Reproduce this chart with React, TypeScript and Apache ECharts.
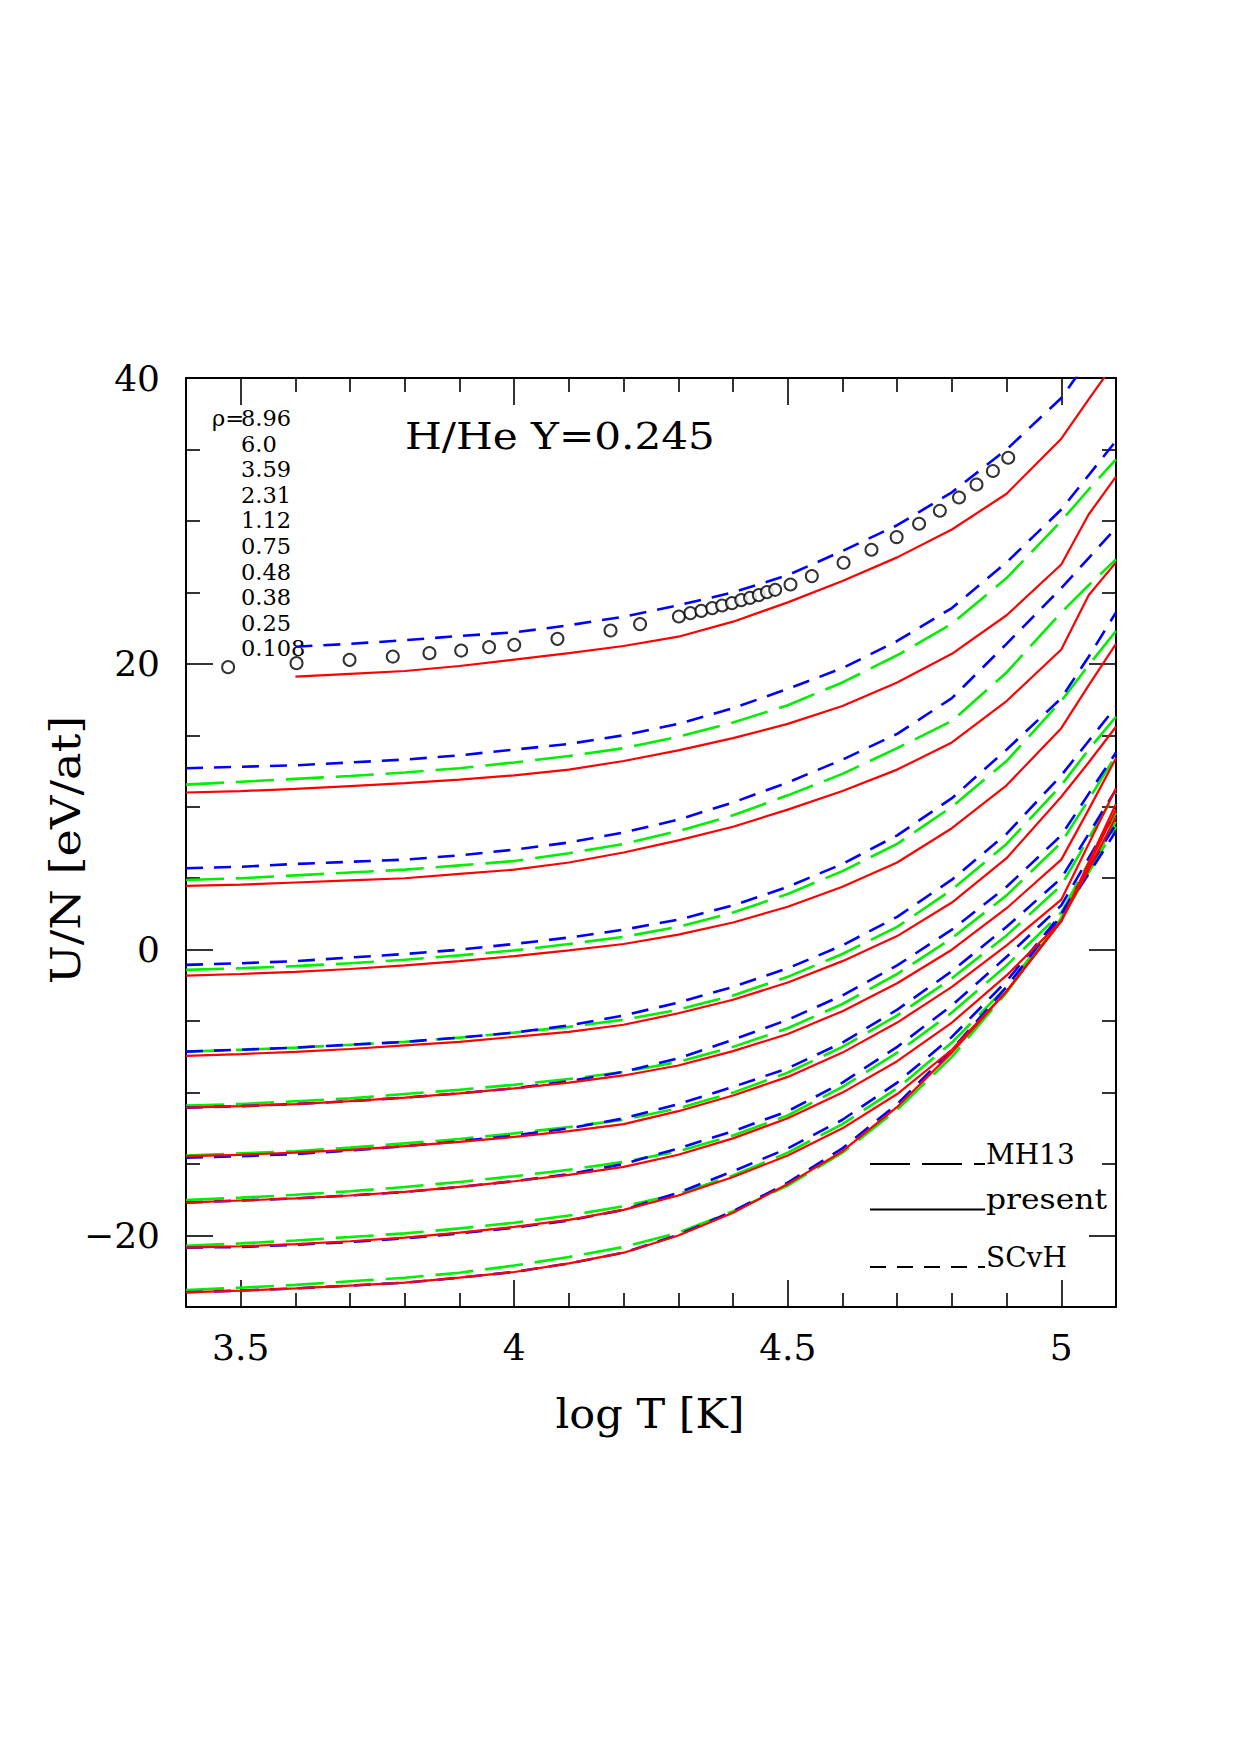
import React, { useEffect, useRef } from "react";
import * as echarts from "echarts";

const SERIF = '"DejaVu Serif", serif';

// log T grid
const logT = [3.4, 3.5, 3.6, 3.7, 3.8, 3.9, 4.0, 4.1, 4.2, 4.3, 4.4, 4.5, 4.6, 4.7, 4.8, 4.9, 5.0, 5.05, 5.1];
const logTHigh = [3.6, 3.7, 3.8, 3.9, 4.0, 4.1, 4.2, 4.3, 4.4, 4.5, 4.6, 4.7, 4.8, 4.9, 5.0, 5.05, 5.1];

// rho = 8.96
const present896 = [19.1, 19.3, 19.5, 19.85, 20.3, 20.75, 21.25, 21.9, 22.95, 24.3, 25.8, 27.45, 29.4, 31.9, 35.75, 38.5, 41.2];
const scvh896 = [21.2, 21.4, 21.65, 21.95, 22.2, 22.7, 23.3, 24.1, 25.0, 26.2, 27.9, 29.7, 32.0, 35.0, 38.6, 41.3, 44.0];
// rho = 6.0
const present60 = [11.0, 11.1, 11.25, 11.45, 11.65, 11.9, 12.2, 12.6, 13.2, 13.95, 14.8, 15.8, 17.05, 18.7, 20.7, 23.4, 26.95, 30.45, 33.1];
const mh1360 = [11.55, 11.75, 11.95, 12.15, 12.4, 12.7, 13.1, 13.55, 14.1, 14.9, 15.9, 17.1, 18.7, 20.6, 22.8, 26.0, 30.0, 32.2, 34.3];
const scvh60 = [12.7, 12.8, 12.9, 13.1, 13.3, 13.6, 14.0, 14.4, 15.0, 15.8, 16.9, 18.25, 19.7, 21.6, 23.9, 27.1, 30.8, 33.2, 35.6];
// rho = 3.59
const present359 = [4.47, 4.55, 4.7, 4.85, 5.0, 5.3, 5.6, 6.1, 6.8, 7.65, 8.6, 9.8, 11.1, 12.6, 14.5, 17.4, 21.0, 24.8, 27.1];
const mh13359 = [4.88, 5.0, 5.2, 5.4, 5.6, 5.9, 6.2, 6.75, 7.4, 8.3, 9.4, 10.8, 12.3, 14.1, 16.0, 19.4, 23.6, 25.5, 27.3];
const scvh359 = [5.7, 5.8, 6.0, 6.15, 6.3, 6.6, 7.0, 7.5, 8.2, 9.1, 10.3, 11.7, 13.3, 15.1, 17.6, 21.4, 25.3, 27.4, 29.5];
// rho = 2.31
const present231 = [-1.81, -1.7, -1.55, -1.35, -1.1, -0.8, -0.45, -0.05, 0.4, 1.05, 1.9, 3.0, 4.4, 6.1, 8.5, 11.5, 15.5, 18.5, 21.4];
const mh13231 = [-1.41, -1.3, -1.15, -0.95, -0.7, -0.4, -0.05, 0.4, 0.9, 1.6, 2.6, 3.9, 5.5, 7.4, 10.0, 13.2, 17.4, 19.9, 22.3];
const scvh231 = [-1.06, -0.95, -0.8, -0.55, -0.3, 0.0, 0.4, 0.85, 1.4, 2.1, 3.1, 4.4, 6.0, 8.0, 10.6, 14.0, 17.6, 20.5, 23.6];
// rho = 1.12
const present112 = [-7.43, -7.3, -7.15, -6.95, -6.7, -6.45, -6.1, -5.75, -5.25, -4.45, -3.5, -2.3, -0.8, 0.95, 3.3, 6.4, 10.7, 13.1, 15.6];
const mh13112 = [-7.13, -7.0, -6.85, -6.65, -6.45, -6.15, -5.8, -5.4, -4.9, -4.2, -3.2, -1.9, -0.3, 1.6, 4.2, 7.4, 11.5, 14.0, 16.3];
const scvh112 = [-7.13, -7.0, -6.85, -6.65, -6.45, -6.15, -5.8, -5.3, -4.6, -3.7, -2.6, -1.3, 0.3, 2.3, 4.9, 8.1, 12.2, 14.6, 17.0];
// rho = 0.75
const present075 = [-11.05, -10.95, -10.8, -10.6, -10.35, -10.05, -9.7, -9.3, -8.8, -8.1, -7.1, -5.9, -4.3, -2.35, 0.0, 2.9, 6.3, 9.8, 13.4];
const mh13075 = [-10.9, -10.8, -10.6, -10.4, -10.1, -9.8, -9.45, -9.05, -8.55, -7.85, -6.8, -5.5, -3.8, -1.7, 0.8, 3.8, 7.5, 10.5, 13.6];
const scvh075 = [-11.05, -10.95, -10.8, -10.6, -10.35, -10.05, -9.7, -9.2, -8.55, -7.6, -6.3, -4.9, -3.2, -1.1, 1.4, 4.4, 8.0, 10.9, 13.8];
// rho = 0.48
const present048 = [-14.45, -14.35, -14.2, -14.0, -13.75, -13.45, -13.1, -12.7, -12.2, -11.3, -10.2, -8.9, -7.2, -5.1, -2.6, 0.3, 3.5, 7.4, 11.3];
const mh13048 = [-14.4, -14.25, -14.1, -13.85, -13.55, -13.25, -12.85, -12.4, -11.9, -11.1, -10.0, -8.6, -6.8, -4.6, -2.0, 1.0, 4.5, 7.8, 11.0];
const scvh048 = [-14.55, -14.45, -14.3, -14.05, -13.75, -13.4, -13.0, -12.5, -11.8, -10.8, -9.6, -8.3, -6.5, -4.2, -1.5, 1.6, 5.0, 8.1, 11.2];
// rho = 0.38
const present038 = [-17.7, -17.55, -17.4, -17.2, -16.95, -16.6, -16.2, -15.75, -15.2, -14.35, -13.2, -11.8, -10.0, -7.8, -5.1, -1.8, 2.0, 6.1, 10.2];
const mh13038 = [-17.51, -17.35, -17.15, -16.9, -16.6, -16.25, -15.85, -15.4, -14.85, -14.1, -13.0, -11.6, -9.6, -7.2, -4.4, -1.1, 2.6, 6.1, 9.6];
const scvh038 = [-17.7, -17.55, -17.4, -17.2, -16.95, -16.6, -16.2, -15.7, -15.0, -13.9, -12.7, -11.3, -9.3, -6.8, -3.9, -0.5, 3.1, 6.4, 9.7];
// rho = 0.25
const present025 = [-20.85, -20.75, -20.6, -20.4, -20.15, -19.8, -19.4, -18.9, -18.2, -17.2, -15.9, -14.4, -12.5, -10.1, -7.0, -2.9, 2.0, 5.9, 9.8];
const mh13025 = [-20.71, -20.55, -20.35, -20.1, -19.85, -19.5, -19.1, -18.6, -17.95, -17.1, -15.8, -14.2, -12.2, -9.7, -6.5, -2.6, 2.2, 5.6, 9.0];
const scvh025 = [-20.85, -20.8, -20.65, -20.45, -20.2, -19.85, -19.45, -18.95, -18.2, -17.0, -15.5, -13.9, -11.9, -9.3, -6.1, -2.2, 2.5, 5.7, 8.8];
// rho = 0.108
const present0108 = [-23.97, -23.85, -23.7, -23.5, -23.3, -22.95, -22.55, -21.95, -21.2, -20.0, -18.4, -16.4, -14.1, -11.0, -7.2, -2.9, 2.0, 5.6, 9.3];
const mh130108 = [-23.81, -23.65, -23.45, -23.2, -22.95, -22.6, -22.1, -21.5, -20.8, -19.8, -18.3, -16.5, -14.2, -11.2, -7.5, -3.0, 2.2, 5.4, 8.6];
const scvh0108 = [-23.97, -23.85, -23.7, -23.5, -23.3, -22.95, -22.55, -21.95, -21.2, -19.95, -18.3, -16.3, -13.9, -10.8, -7.0, -2.6, 2.4, 5.3, 8.3];

// open circles (rho = 8.96)
const circleT = [3.477, 3.602, 3.699, 3.778, 3.845, 3.903, 3.954, 4.0, 4.079, 4.176, 4.23, 4.301, 4.322, 4.342, 4.362, 4.38, 4.398, 4.415, 4.431, 4.447, 4.462, 4.477, 4.505, 4.544, 4.602, 4.653, 4.699, 4.74, 4.778, 4.813, 4.845, 4.875, 4.903];
const circleU = [19.77, 20.05, 20.28, 20.51, 20.75, 20.93, 21.17, 21.33, 21.75, 22.33, 22.78, 23.31, 23.55, 23.71, 23.9, 24.08, 24.25, 24.46, 24.62, 24.81, 25.02, 25.18, 25.55, 26.14, 27.07, 27.98, 28.87, 29.8, 30.71, 31.64, 32.55, 33.49, 34.42];

const rhoLabels = ["8.96", "6.0", "3.59", "2.31", "1.12", "0.75", "0.48", "0.38", "0.25", "0.108"];

const majorX = [3.5, 4, 4.5, 5];
const minorX = [3.4, 3.6, 3.7, 3.8, 3.9, 4.1, 4.2, 4.3, 4.4, 4.6, 4.7, 4.8, 4.9, 5.1];
const majorY = [-20, 0, 20, 40];
const minorY = [-25, -15, -10, -5, 5, 10, 15, 25, 30, 35];

const presentSets = [present896, present60, present359, present231, present112, present075, present048, present038, present025, present0108];
const mh13Sets = [null, mh1360, mh13359, mh13231, mh13112, mh13075, mh13048, mh13038, mh13025, mh130108];
const scvhSets = [scvh896, scvh60, scvh359, scvh231, scvh112, scvh075, scvh048, scvh038, scvh025, scvh0108];

const RED = "#ff0000";
const GREEN = "#00ee00";
const BLUE = "#0000ff";
const GREEN_DASH = [38, 12];
const BLUE_DASH = [17, 11];

function pairs(xs: number[], ys: number[]) {
  return xs.map((x, i) => [x, ys[i]]);
}

function lineSeries(data: number[][], color: string, width: number, dash: any) {
  return {
    type: "line",
    data,
    showSymbol: false,
    symbol: "none",
    silent: true,
    clip: true,
    lineStyle: { color, width, type: dash },
    xAxisIndex: 0,
    yAxisIndex: 0,
  };
}

const frameLine = { show: true, onZero: false, lineStyle: { color: "#000", width: 2 } };
const tickStyle = { color: "#000", width: 1.6 };

export default function App() {
  const ref = useRef<HTMLDivElement>(null);
  useEffect(() => {
    const chart = echarts.init(ref.current!, null, { renderer: "svg" });
    const series: any[] = [];
    mh13Sets.forEach((s, i) => {
      if (s) series.push(lineSeries(pairs(i === 0 ? logTHigh : logT, s), GREEN, 2.6, GREEN_DASH));
    });
    scvhSets.forEach((s, i) => {
      series.push(lineSeries(pairs(i === 0 ? logTHigh : logT, s), BLUE, 2.6, BLUE_DASH));
    });
    presentSets.forEach((s, i) => {
      series.push(lineSeries(pairs(i === 0 ? logTHigh : logT, s), RED, 2.2, "solid"));
    });
    series.push({
      type: "scatter",
      data: pairs(circleT, circleU),
      symbol: "emptyCircle",
      symbolSize: 12,
      silent: true,
      itemStyle: { color: "#000", borderColor: "#000", borderWidth: 2 },
      xAxisIndex: 0,
      yAxisIndex: 0,
    });

    const xMain = { type: "value", min: 3.4, max: 5.1, splitLine: { show: false } };
    const yMain = { type: "value", min: -25, max: 40, splitLine: { show: false } };
    const noLabel = { show: false };

    const graphic: any[] = [];
    const txt = (text: string, x: number, y: number, size: number, align = "left", rot = 0, sx = 1) => ({
      type: "text",
      x,
      y,
      rotation: rot,
      scaleX: sx,
      silent: true,
      style: {
        text,
        fill: "#000",
        fontSize: size,
        fontFamily: SERIF,
        align,
        verticalAlign: "middle",
        textAlign: align,
        textVerticalAlign: "middle",
      },
    });
    graphic.push(txt("U/N [eV/at]", 65, 850, 41, "center", Math.PI / 2, 1.13));
    graphic.push(txt("log T [K]", 650, 1414, 41, "center", 0, 1.05));
    graphic.push(txt("H/He Y=0.245", 405, 436, 37, "left", 0, 1.14));
    graphic.push(txt("\u03c1=", 212, 418, 22.5));
    rhoLabels.forEach((r, i) => graphic.push(txt(r, 241, 418 + i * 25.6, 22.5)));
    const legendRows = [
      { label: "MH13", y: 1164, dash: [40, 12], sx: 1 },
      { label: "present", y: 1209.5, dash: null, sx: 1.12 },
      { label: "SCvH", y: 1267, dash: [16, 11], sx: 1 },
    ];
    legendRows.forEach((r) => {
      graphic.push({
        type: "line",
        silent: true,
        shape: { x1: 870, y1: r.y, x2: 985, y2: r.y },
        style: { stroke: "#000", lineWidth: 2, lineDash: r.dash || undefined },
      });
      graphic.push(txt(r.label, 986, r.y - 10, 28, "left", 0, r.sx));
    });

    const option: any = {
      animation: false,
      backgroundColor: "#fff",
      grid: { left: 186, right: 124, top: 378, bottom: 448, containLabel: false },
      xAxis: [
        {
          ...xMain,
          position: "bottom",
          axisLine: frameLine,
          axisTick: { show: true, inside: true, length: 27, customValues: majorX, lineStyle: tickStyle },
          axisLabel: {
            show: true,
            customValues: majorX,
            margin: 22,
            color: "#000",
            fontFamily: SERIF,
            fontSize: 36,
          },
        },
        {
          ...xMain,
          position: "bottom",
          axisLine: { show: false, onZero: false },
          axisTick: { show: true, inside: true, length: 14, customValues: minorX, lineStyle: tickStyle },
          axisLabel: noLabel,
        },
        {
          ...xMain,
          position: "top",
          axisLine: frameLine,
          axisTick: { show: true, inside: true, length: 27, customValues: majorX, lineStyle: tickStyle },
          axisLabel: noLabel,
        },
        {
          ...xMain,
          position: "top",
          axisLine: { show: false, onZero: false },
          axisTick: { show: true, inside: true, length: 14, customValues: minorX, lineStyle: tickStyle },
          axisLabel: noLabel,
        },
      ],
      yAxis: [
        {
          ...yMain,
          position: "left",
          axisLine: frameLine,
          axisTick: { show: true, inside: true, length: 27, customValues: majorY, lineStyle: tickStyle },
          axisLabel: {
            show: true,
            customValues: majorY,
            margin: 26,
            color: "#000",
            fontFamily: SERIF,
            fontSize: 36,
            formatter: (v: number) => (v < 0 ? "\u2212" + Math.abs(v) : String(v)),
          },
        },
        {
          ...yMain,
          position: "left",
          axisLine: { show: false, onZero: false },
          axisTick: { show: true, inside: true, length: 14, customValues: minorY, lineStyle: tickStyle },
          axisLabel: noLabel,
        },
        {
          ...yMain,
          position: "right",
          axisLine: frameLine,
          axisTick: { show: true, inside: true, length: 27, customValues: majorY, lineStyle: tickStyle },
          axisLabel: noLabel,
        },
        {
          ...yMain,
          position: "right",
          axisLine: { show: false, onZero: false },
          axisTick: { show: true, inside: true, length: 14, customValues: minorY, lineStyle: tickStyle },
          axisLabel: noLabel,
        },
      ],
      series,
      graphic,
    };
    chart.setOption(option);
    return () => chart.dispose();
  }, []);
  return (
    <div
      ref={ref}
      style={{ position: "absolute", left: 0, top: 0, width: 1240, height: 1755, background: "#fff" }}
    />
  );
}
